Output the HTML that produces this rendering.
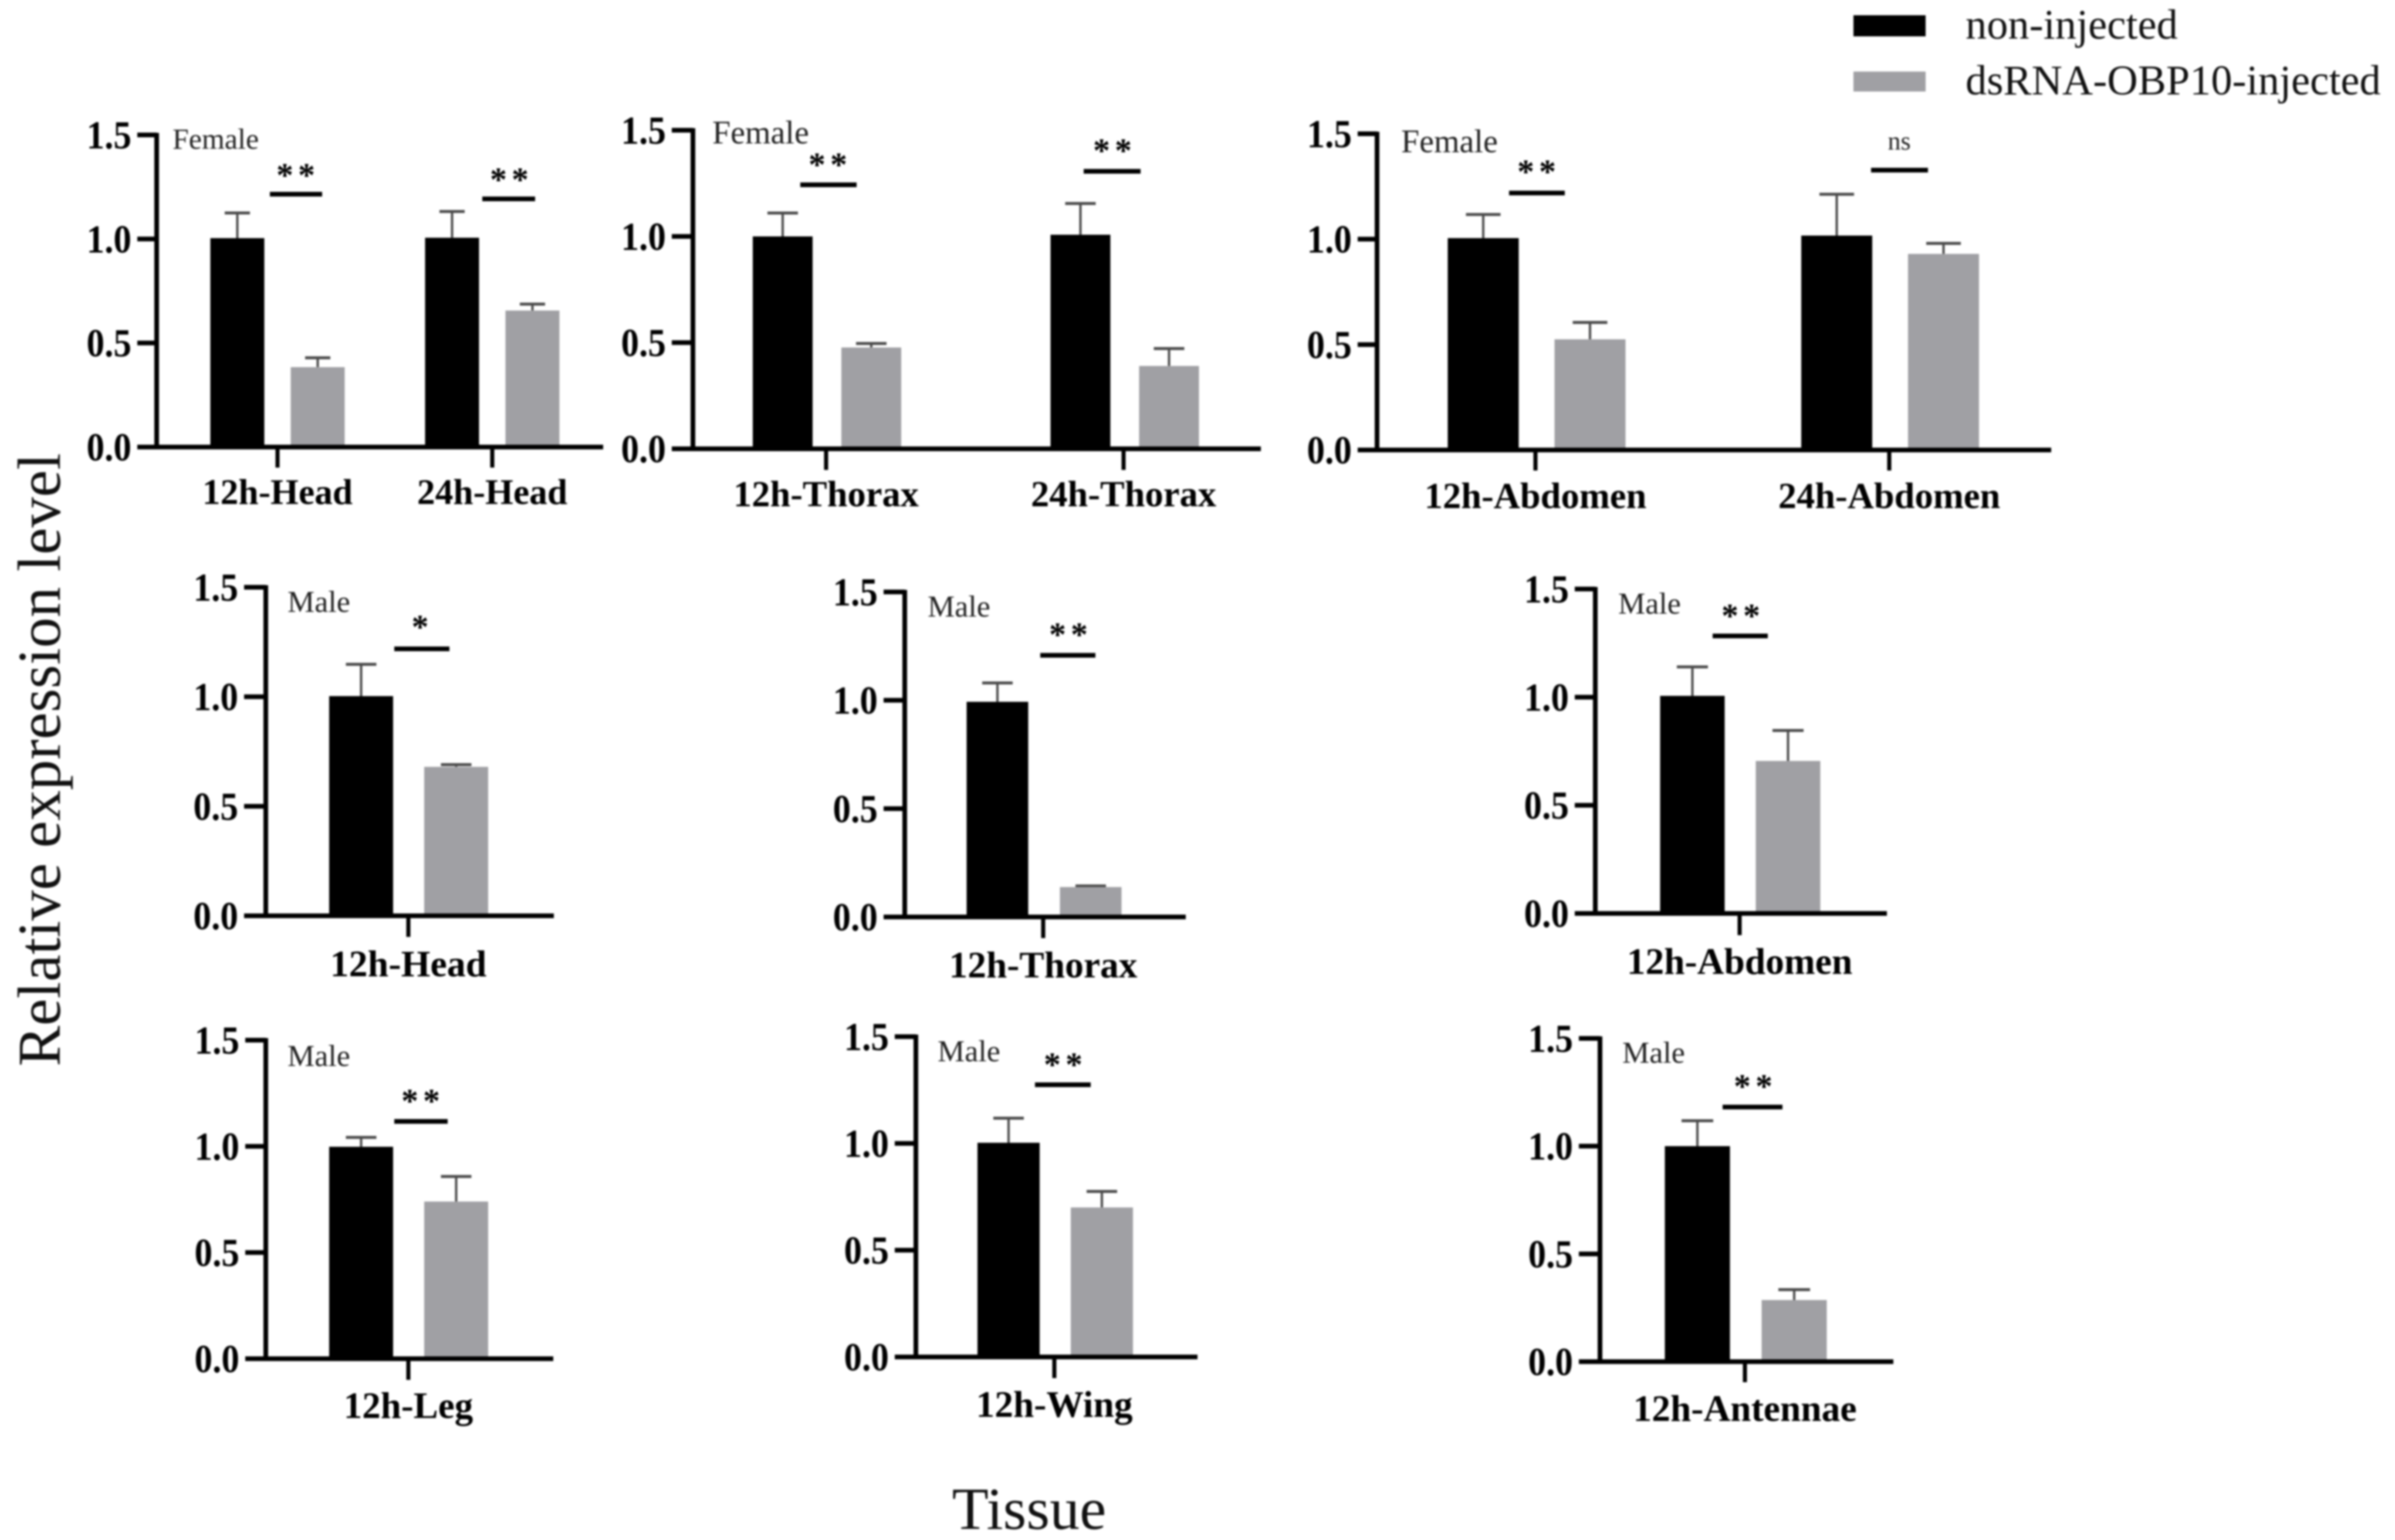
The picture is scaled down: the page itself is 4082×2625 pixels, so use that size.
<!DOCTYPE html>
<html lang="en">
<head>
<meta charset="utf-8">
<title>Relative expression level by tissue</title>
<style>
  html, body { margin: 0; padding: 0; background: #fff; }
  #figure { display: block; width: 4082px; height: 2625px; filter: blur(1.7px); font-family: "Liberation Serif", "Times New Roman", serif; }
</style>
</head>
<body>
<svg id="figure" xmlns="http://www.w3.org/2000/svg" width="4082" height="2625" viewBox="0 0 4082 2625">
  <rect x="0" y="0" width="4082" height="2625" fill="#ffffff"/>
  <g id="panels"></g>
  <text transform="translate(102,1295) rotate(-90)" text-anchor="middle" font-size="104" fill="#111">Relative expression level</text>
  <text x="1754" y="2606" text-anchor="middle" font-size="102" fill="#111">Tissue</text>
  <g>
    <rect x="3159" y="26" width="123" height="36" fill="#000"/>
    <text x="3350" y="66" font-size="72.4" fill="#111">non-injected</text>
    <rect x="3159" y="122" width="123" height="34" fill="#a0a0a4"/>
    <text x="3350" y="161" font-size="72.4" fill="#111">dsRNA-OBP10-injected</text>
  </g>
</svg>
<script>
// ---- chart data (one entry per panel) ----
const tickValues = [0, 0.5, 1, 1.5];
const tickLabels = ["0.0", "0.5", "1.0", "1.5"];
const panelSex = ["Female", "Female", "Female", "Male", "Male", "Male", "Male", "Male", "Male"];
const panelCategories = [
  ["12h-Head", "24h-Head"],
  ["12h-Thorax", "24h-Thorax"],
  ["12h-Abdomen", "24h-Abdomen"],
  ["12h-Head"],
  ["12h-Thorax"],
  ["12h-Abdomen"],
  ["12h-Leg"],
  ["12h-Wing"],
  ["12h-Antennae"]
];
const nonInjectedValues = [
  [1.004, 1.006], [1.0, 1.008], [1.005, 1.017],
  [1.003], [0.993], [1.006],
  [0.998], [1.003], [1.0]
];
const nonInjectedErrors = [
  [0.121, 0.126], [0.11, 0.147], [0.112, 0.196],
  [0.145], [0.087], [0.134],
  [0.044], [0.115], [0.118]
];
const injectedValues = [
  [0.384, 0.656], [0.477, 0.39], [0.525, 0.93],
  [0.68], [0.138], [0.705],
  [0.74], [0.7], [0.286]
];
const injectedErrors = [
  [0.045, 0.031], [0.019, 0.082], [0.08, 0.05],
  [0.01], [0.005], [0.141],
  [0.118], [0.075], [0.048]
];
const significance = [
  ["**", "**"], ["**", "**"], ["**", "ns"],
  ["*"], ["**"], ["**"],
  ["**"], ["**"], ["**"]
];

// ---- layout (pixels) ----
const panelLayouts = [
  { axisX: 267,  y0: 762,  y15: 230,  left: 234,  right: 1028, tickBottom: 797,  groups: [473, 839],   center: [473, 839],   offset: 68.5, barW: 92,  capW: 43, sexX: 294,  sexY: 237, sexSize: 50, catY: 859,  catSize: 61.5, sig: [[460, 549, 331, 503, 291], [822, 912, 339, 867, 298.5]] },
  { axisX: 1181, y0: 765,  y15: 222,  left: 1145, right: 2149, tickBottom: 801,  groups: [1408, 1915], center: [1409.5, 1917], offset: 75.5, barW: 102, capW: 52, sexX: 1214, sexY: 226, sexSize: 56, catY: 863,  catSize: 62.5, sig: [[1364, 1460, 315, 1410, 273], [1847, 1944, 292, 1895, 249]] },
  { axisX: 2347, y0: 767,  y15: 228,  left: 2314, right: 3496, tickBottom: 802,  groups: [2617, 3220], center: [2619, 3221.5], offset: 91,  barW: 121, capW: 59, sexX: 2388, sexY: 241, sexSize: 56, catY: 866,  catSize: 62.5, sig: [[2572, 2667, 329, 2618, 285], [3189, 3286, 290, 3237, 244]] },
  { axisX: 453,  y0: 1561, y15: 1001, left: 416,  right: 944,  tickBottom: 1597, groups: [696],  center: [696.5],  offset: 81,   barW: 109, capW: 52, sexX: 490,  sexY: 1026, sexSize: 52, catY: 1664, catSize: 64, sig: [[672, 766, 1106, 716, 1061]] },
  { axisX: 1542, y0: 1563, y15: 1009, left: 1506, right: 2021, tickBottom: 1599, groups: [1778], center: [1779.5], offset: 79.5, barW: 105, capW: 52, sexX: 1581, sexY: 1034, sexSize: 52, catY: 1666, catSize: 63.5, sig: [[1773, 1867, 1117, 1820, 1074]] },
  { axisX: 2719, y0: 1557, y15: 1004, left: 2684, right: 3216, tickBottom: 1594, groups: [2965], center: [2966],   offset: 81.5, barW: 110, capW: 53, sexX: 2758, sexY: 1029, sexSize: 52, catY: 1660, catSize: 63.5, sig: [[2919, 3013, 1084, 2966, 1042]] },
  { axisX: 453,  y0: 2316, y15: 1773, left: 418,  right: 943,  tickBottom: 2352, groups: [696],  center: [696.5],  offset: 81,   barW: 109, capW: 52, sexX: 490,  sexY: 1800, sexSize: 52, catY: 2417, catSize: 63, sig: [[672, 763, 1911.5, 716, 1869]] },
  { axisX: 1561, y0: 2313, y15: 1767, left: 1525, right: 2041, tickBottom: 2349, groups: [1797], center: [1798.5], offset: 79.5, barW: 106, capW: 52, sexX: 1598, sexY: 1792, sexSize: 52, catY: 2415, catSize: 63.5, sig: [[1764, 1859, 1849, 1811, 1807]] },
  { axisX: 2727, y0: 2321, y15: 1770, left: 2691, right: 3227, tickBottom: 2356, groups: [2974], center: [2975.5], offset: 82.5, barW: 111, capW: 54, sexX: 2765, sexY: 1794.5, sexSize: 52, catY: 2422, catSize: 63.5, sig: [[2936, 3038, 1887, 2987, 1844]] }
];

const SVG_NS = "http://www.w3.org/2000/svg";
const GRAY = "#a0a0a4";
const ERR = "#4a4a4a";

function make(parent, tag, attrs, content) {
  const node = document.createElementNS(SVG_NS, tag);
  Object.keys(attrs).forEach(function (k) { node.setAttribute(k, attrs[k]); });
  if (content !== undefined) node.textContent = content;
  parent.appendChild(node);
  return node;
}
function yScale(layout, value) {
  return layout.y0 - (layout.y0 - layout.y15) * value / 1.5;
}
function barCenter(layout, groupIndex, seriesIndex) {
  return layout.center[groupIndex] + (seriesIndex === 0 ? -layout.offset : layout.offset);
}

const root = document.getElementById("panels");

panelLayouts.forEach(function (layout, p) {
  const group = make(root, "g", {});
  
  

  const series = [
    { values: nonInjectedValues[p], errors: nonInjectedErrors[p], fill: "#000000", name: "non-injected" },
    { values: injectedValues[p], errors: injectedErrors[p], fill: GRAY, name: "dsrna-injected" }
  ];

  // bars and error bars
  series.forEach(function (s, si) {
    s.values.forEach(function (v, gi) {
      const cx = barCenter(layout, gi, si);
      const top = yScale(layout, v);
      const errTop = yScale(layout, v + s.errors[gi]);

      const stem = make(group, "line", { x1: cx, x2: cx, y1: top, y2: errTop, stroke: ERR, "stroke-width": 4 });
      
      

      const cap = make(group, "line", { x1: cx - layout.capW / 2, x2: cx + layout.capW / 2, y1: errTop, y2: errTop, stroke: ERR, "stroke-width": 5 });
      
      

      const bar = make(group, "rect", { x: cx - layout.barW / 2, y: top, width: layout.barW, height: layout.y0 - top, fill: s.fill });
      
      
    });
  });

  // axes
  const yAxis = make(group, "line", { x1: layout.axisX, x2: layout.axisX, y1: layout.y15 - 3.5, y2: layout.y0, stroke: "#000", "stroke-width": 8 });
  
  

  const xAxis = make(group, "line", { x1: layout.left, x2: layout.right, y1: layout.y0, y2: layout.y0, stroke: "#000", "stroke-width": 8 });
  
  

  // y ticks + labels
  tickValues.forEach(function (t, ti) {
    const y = yScale(layout, t);
    const tick = make(group, "line", { x1: layout.left, x2: layout.axisX, y1: y, y2: y, stroke: "#000", "stroke-width": 8 });
    
    

    const label = make(group, "text", {
      transform: "translate(" + (layout.left - 10) + "," + (y + 23) + ") scale(0.9,1)",
      "text-anchor": "end", "font-size": 68, "font-weight": "bold", fill: "#000"
    }, tickLabels[ti]);
    
    
  });

  // x ticks + category labels
  panelCategories[p].forEach(function (cat, gi) {
    const x = layout.groups[gi];
    const tick = make(group, "line", { x1: x, x2: x, y1: layout.y0, y2: layout.tickBottom, stroke: "#000", "stroke-width": 7 });
    
    

    const label = make(group, "text", {
      x: x, y: layout.catY, "text-anchor": "middle",
      "font-size": layout.catSize, "font-weight": "bold", fill: "#000"
    }, cat);
    
    
  });

  // sex annotation
  const sex = make(group, "text", {
    x: layout.sexX, y: layout.sexY + layout.sexSize * 0.33,
    "font-size": layout.sexSize, fill: "#222"
  }, panelSex[p]);
  
  

  // significance brackets
  significance[p].forEach(function (mark, gi) {
    const g = layout.sig[gi];
    const line = make(group, "line", { x1: g[0], x2: g[1], y1: g[2], y2: g[2], stroke: "#000", "stroke-width": 8 });
    
    

    let text;
    if (mark === "ns") {
      text = make(group, "text", { x: g[3], y: g[4] + 11, "text-anchor": "middle", "font-size": 44, fill: "#222" }, mark);
    } else {
      text = make(group, "text", {
        x: g[3] + (mark.length > 1 ? 5 : 0), y: g[4] + 27, "text-anchor": "middle",
        "font-size": 58, "font-weight": "bold", "letter-spacing": mark.length > 1 ? 8 : 0, fill: "#000"
      }, mark);
    }
    
    
  });
});
</script>
</body>
</html>
